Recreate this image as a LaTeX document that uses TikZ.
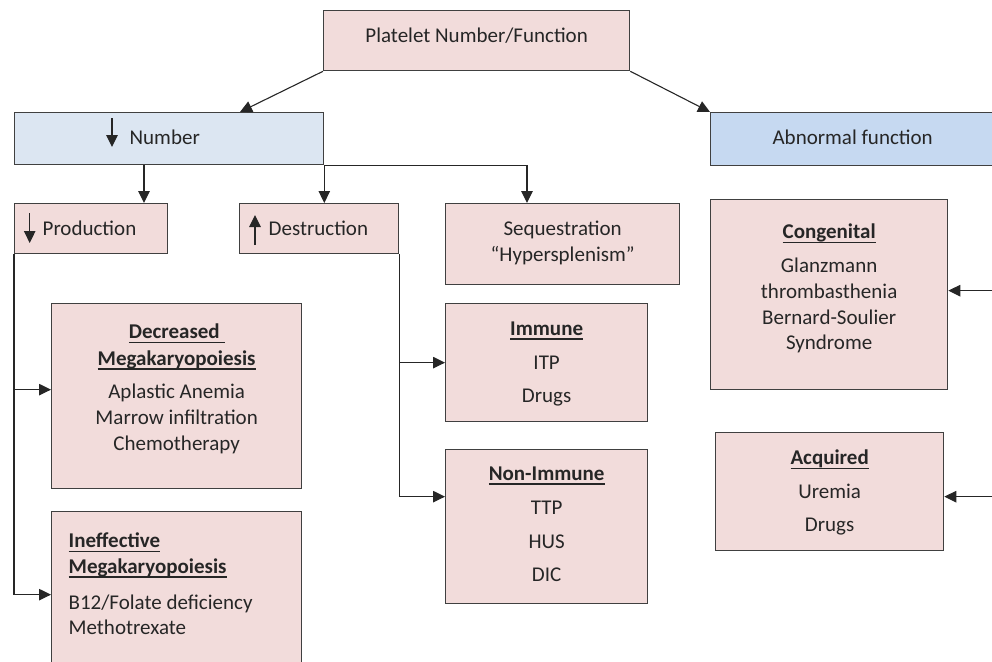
\documentclass[tikz,border=0pt]{standalone}
\usepackage{fontspec}
\setmainfont{Carlito}
\usetikzlibrary{arrows.meta}
\definecolor{pnk}{RGB}{242,220,219}
\definecolor{blu}{RGB}{220,230,242}
\definecolor{bluB}{RGB}{198,217,241}
\definecolor{edg}{RGB}{64,64,64}
\definecolor{ink}{RGB}{38,38,38}
\newsavebox{\hdbox}
\newcommand{\bx}[4]{\parbox[c][#2pt][t]{#1pt}{\rule{0pt}{#3pt}#4}}
\newcommand{\hd}[1]{\leavevmode\sbox{\hdbox}{\textbf{#1}}\rlap{\rule[-4.1pt]{\wd\hdbox}{1.3pt}}\usebox{\hdbox}}
\tikzset{
  box/.style={draw=edg,line width=1.3pt,inner sep=0pt,anchor=north west,text=ink,
    font=\fontsize{21}{25.7}\selectfont},
  arr/.style={-{Triangle[length=12pt,width=11.5pt]},line width=1.1pt,draw=ink},
}

\begin{document}
\begin{tikzpicture}[x=1pt,y=-1pt]
\useasboundingbox (0,0) rectangle (992,661);
\clip (0,0) rectangle (992,661);
\node[box,fill=pnk] (top) at (323,10) {\bx{306}{60}{32}{\centering Platelet Number/Function}};
\node[box,fill=blu] (num) at (14,112) {\bx{309}{52}{32}{\raggedright\hspace*{115pt}Number}};
\node[box,fill=bluB] (abn) at (710,112) {\bx{284}{53}{32}{\centering Abnormal function}};
\node[box,fill=pnk] (prod) at (14,203) {\bx{153}{50}{32}{\raggedright\hspace*{28pt}Production}};
\node[box,fill=pnk] (destr) at (239,203) {\bx{159}{50}{32}{\raggedright\hspace*{29pt}Destruction}};
\node[box,fill=pnk] (seq) at (445,203) {\bx{234}{81}{32}{\centering Sequestration\\ “Hypersplenism”}};
\node[box,fill=pnk] (cong) at (710,199) {\bx{237}{190}{39.3}{\centering \hd{Congenital}\\[8pt] Glanzmann\\ thrombasthenia\\ Bernard-Soulier\\ Syndrome}};
\node[box,fill=pnk] (acq) at (715,432) {\bx{228}{118}{32.3}{\centering \hd{Acquired}\\[7.8pt] Uremia\\[7.8pt] Drugs}};
\node[box,fill=pnk] (imm) at (445,303) {\bx{202}{118}{32}{\centering \hd{Immune}\\[7.8pt] ITP\\[7.8pt] Drugs}};
\node[box,fill=pnk] (nonimm) at (445,449) {\bx{202}{154}{31}{\centering \hd{Non-Immune}\\[8pt] TTP\\[8pt] HUS\\[8pt] DIC}};
\node[box,fill=pnk] (dec) at (51,303) {\bx{250}{185}{35.3}{\centering \hd{Decreased\ }\\[1pt] \hd{Megakaryopoiesis}\\[7.6pt] Aplastic Anemia\\ Marrow infiltration\\ Chemotherapy}};
\node[box,fill=pnk] (ineff) at (51,511) {\bx{250}{166}{36.3}{\raggedright\hspace*{17pt}\hd{Ineffective}\\ \hspace*{17pt}\hd{Megakaryopoiesis}\\[9.7pt] \hspace*{17pt}B12/Folate deficiency\\ \hspace*{17pt}Methotrexate}};
\coordinate (rim) at (1000,0);
\draw[arr] ([xshift=98pt,yshift=-6pt]num.north west) -- ++(0,29);
\draw[arr] ([xshift=15.7pt,yshift=-10pt]prod.north west) -- ++(0,30);
\draw[arr] ([xshift=16pt,yshift=-42pt]destr.north west) -- ++(0,-30);
\draw[arr] (top.south west) -- ([xshift=226pt]num.north west);
\draw[arr] (top.south east) -- (abn.north west);
\draw[arr] ([xshift=130pt]num.south west) -- ([xshift=130pt]num.south west |- prod.north);
\draw[arr] (num.south east) -- (num.south east |- destr.north);
\draw[arr] (num.south east) -| ([xshift=82pt]seq.north west);
\draw[arr] (prod.south west) |- ([yshift=6.5pt]dec.west);
\draw[arr] (prod.south west) |- (ineff.west);
\draw[arr] (destr.south east) |- (imm.west);
\draw[arr] (destr.south east) |- ([yshift=30pt]nonimm.west);
\draw[arr] ([yshift=4pt]cong.east -| rim) -- ([yshift=4pt]cong.east);
\draw[arr] ([yshift=-5pt]acq.east -| rim) -- ([yshift=-5pt]acq.east);
\end{tikzpicture}
\end{document}
